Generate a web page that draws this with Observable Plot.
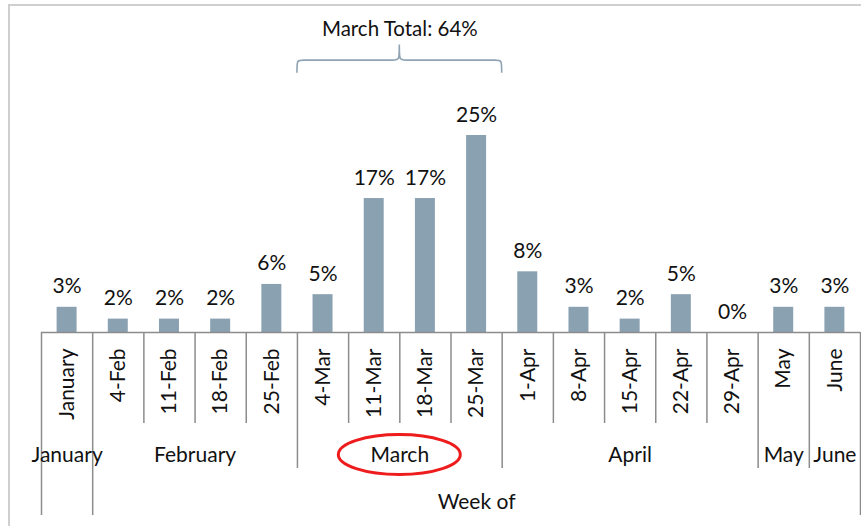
<!DOCTYPE html>
<html><head><meta charset="utf-8">
<script src="https://cdn.jsdelivr.net/npm/d3@7"></script>
<script src="https://cdn.jsdelivr.net/npm/@observablehq/plot@0.6"></script>
<style>
html,body{margin:0;padding:0;background:#fff;}
#wrap{position:relative;width:861px;height:526px;overflow:hidden;}
#frame{position:absolute;left:8px;top:4px;width:900px;height:600px;border-top:2px solid #cfcfcf;border-left:2px solid #cfcfcf;pointer-events:none;}
#chart svg{display:block;}
</style></head><body>
<div id="wrap"><div id="chart"></div><div id="frame"></div></div>
<script>
// ---- data ----
const categories = ["January","4-Feb","11-Feb","18-Feb","25-Feb","4-Mar","11-Mar","18-Mar","25-Mar","1-Apr","8-Apr","15-Apr","22-Apr","29-Apr","May","June"];
const values = [3.2,1.7,1.7,1.7,6.1,4.8,17.0,17.0,25.0,7.7,3.2,1.7,4.8,0,3.2,3.2];
const valueLabels = ["3%","2%","2%","2%","6%","5%","17%","17%","25%","8%","3%","2%","5%","0%","3%","3%"];
const months = ["January","February","March","April","May","June"];
const monthStart = [0,1,5,9,14,15];
const monthEnd = [1,5,9,14,15,16];
const annotationText = "March Total: 64%";
const axisTitle = "Week of";

// ---- tables ----
const data = categories.map((c, i) => ({i, category: c, value: values[i], label: valueLabels[i]}));
const monthTable = months.map((m, k) => ({month: m, x1: monthStart[k], x2: monthEnd[k]}));

const PXPCT = (332 - 135) / 25;            // pixels per percentage point
const below = px => -px / PXPCT;            // offset below baseline, in data units
const grey = "#8c8c8c";
const font = "Lato, 'Open Sans', sans-serif";
const FS = 21;

const brace = (index, {x, y}) => {
  const x0 = x(monthStart[2]), x1 = x(monthEnd[2]), xm = (x0 + x1) / 2;
  const yl = y(34.5), ye = y(32.9), yc = y(36.5), r = 7;
  const d = `M${x0},${ye} C${x0},${yl} ${x0},${yl} ${x0 + r},${yl} L${xm - r},${yl} C${xm},${yl} ${xm},${yl} ${xm},${yc} C${xm},${yl} ${xm},${yl} ${xm + r},${yl} L${x1 - r},${yl} C${x1},${yl} ${x1},${yl} ${x1},${ye}`;
  return d3.create("svg:path").attr("d", d).attr("fill", "none").attr("stroke", "#8ea3b3").attr("stroke-width", 1.6).node();
};
const ellipse = (index, {x, y}) => {
  const cx = (x(monthStart[2]) + x(monthEnd[2])) / 2;
  return d3.create("svg:ellipse").attr("cx", cx).attr("cy", y(0) + 122.5).attr("rx", 61).attr("ry", 20)
    .attr("fill", "none").attr("stroke", "#ee1c1c").attr("stroke-width", 3).node();
};

const chart = Plot.plot({
  width: 861, height: 526,
  marginLeft: 41, marginRight: 1, marginTop: 135, marginBottom: 194,
  x: {domain: [0, categories.length], axis: null},
  y: {domain: [0, 25], axis: null},
  style: {fontFamily: font, fontSize: FS + "px", color: "#111", background: "transparent", overflow: "visible"},
  marks: [
    Plot.rectY(data, {x1: "i", x2: d => d.i + 1, y: "value", fill: "#8aa1b1", insetLeft: 15.6, insetRight: 15.6}),
    Plot.text(data, {x: d => d.i + 0.5, y: "value", text: "label", lineAnchor: "bottom", dy: -14, fontSize: FS, fill: "#111"}),
    // category ticks
    Plot.ruleX(d3.range(categories.length + 1), {x: d => d, y1: 0, y2: below(91), stroke: grey, strokeWidth: 1.5}),
    // month group separators
    Plot.ruleX([5, 9, 14, 15], {x: d => d, y1: below(91), y2: below(136), stroke: grey, strokeWidth: 1.5}),
    Plot.ruleX([0, 1, 16], {x: d => d, y1: below(91), y2: below(183), stroke: grey, strokeWidth: 1.5}),
    Plot.ruleY([0], {x1: 0, x2: categories.length, stroke: grey, strokeWidth: 1.5}),
    // rotated category labels
    Plot.text(data, {x: d => d.i + 0.5, y: 0, text: "category", rotate: -90, textAnchor: "end", lineAnchor: "middle", dy: 16, fontSize: FS, fill: "#111"}),
    // month labels
    Plot.text(monthTable, {x: d => (d.x1 + d.x2) / 2, y: 0, text: "month", dy: 123, lineAnchor: "middle", fontSize: FS, fill: "#111"}),
    Plot.text([axisTitle], {x: 8.5, y: 0, text: d => d, dy: 170, lineAnchor: "middle", fontSize: FS, fill: "#111"}),
    // annotation
    Plot.text([annotationText], {x: (monthStart[2] + monthEnd[2]) / 2, y: 38.45, text: d => d, lineAnchor: "middle", fontSize: 20.5, fill: "#111"}),
    brace,
    ellipse
  ]
});
document.getElementById("chart").append(chart);
</script>
</body></html>
